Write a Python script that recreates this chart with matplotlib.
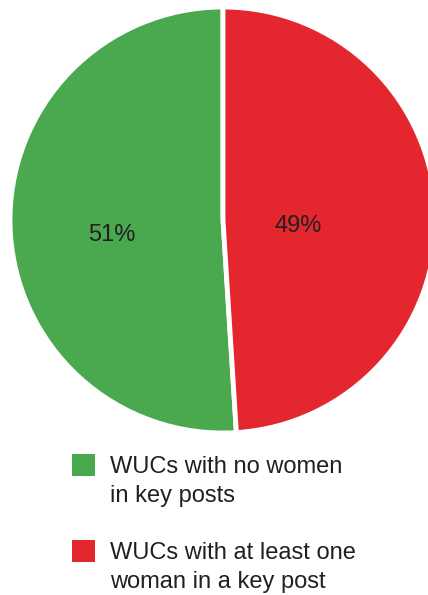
import matplotlib.pyplot as plt
import matplotlib.patches as patches

# Share of WUCs by presence of women in key posts
categories = ["WUCs with no women\nin key posts",
              "WUCs with at least one\nwoman in a key post"]
shares = [51, 49]
colors = ["#4aa84f", "#e4272e"]
text_color = "#231f20"

W, H = 428, 595
fig = plt.figure(figsize=(W / 100, H / 100), dpi=100)

# Pie centred at (223, 220) px from top-left
cx, cy, r = 223, 220, 213
ax = fig.add_axes([(cx - r) / W, (H - cy - r) / H, 2 * r / W, 2 * r / H])
wedges, _ = ax.pie(shares, colors=colors, startangle=90, counterclock=True,
                   wedgeprops={'edgecolor': 'white', 'linewidth': 3.5})
ax.set_xlim(-1, 1)
ax.set_ylim(-1, 1)
ax.axis('off')

# Percentage labels inside the wedges
label_pos = [(-0.523, -0.07), (0.354, -0.03)]
for share, (x, y) in zip(shares, label_pos):
    ax.text(x, y, f"{share}%", ha='center', va='center', fontsize=17,
            family='Liberation Sans', color=text_color)

# Legend drawn below the pie, one baseline per text line
legend_rows = [454, 540]
for top, label, color in zip(legend_rows, categories, colors):
    fig.patches.append(patches.Rectangle((72 / W, 1 - (top + 22) / H), 23 / W, 22 / H,
                                         transform=fig.transFigure, facecolor=color,
                                         edgecolor='none'))
    for i, line in enumerate(label.split("\n")):
        baseline = top + 19 + 29 * i
        fig.text(110 / W, 1 - baseline / H, line, ha='left', va='baseline',
                 fontsize=17, family='Liberation Sans', color=text_color)

fig.savefig("out.png", dpi=100)
